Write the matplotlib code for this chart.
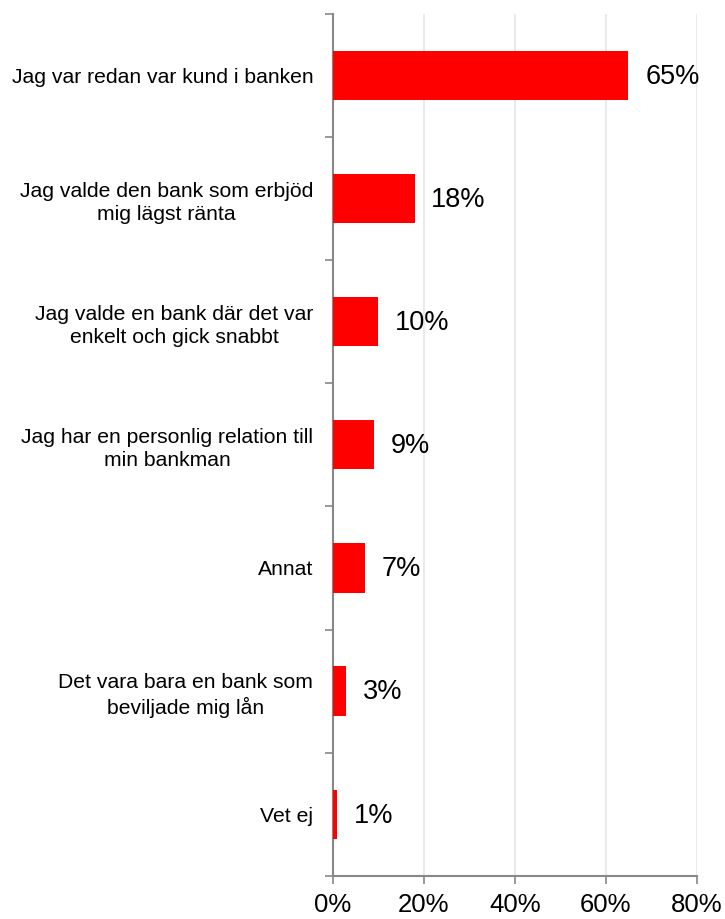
import matplotlib
matplotlib.use("Agg")
import matplotlib.pyplot as plt
from matplotlib.ticker import FixedLocator, FuncFormatter
import numpy as np

plt.rcParams['font.family'] = ['Liberation Sans', 'DejaVu Sans']

categories = [
    "Jag var redan var kund i banken",
    "Jag valde den bank som erbjöd\nmig lägst ränta",
    "Jag valde en bank där det var\nenkelt och gick snabbt",
    "Jag har en personlig relation till\nmin bankman",
    "Annat",
    "Det vara bara en bank som\nbeviljade mig lån",
    "Vet ej",
]
values = [65, 18, 10, 9, 7, 3, 1]
xticks = [0, 20, 40, 60, 80]

fig = plt.figure(figsize=(7.25, 9.19), dpi=100)
ax = fig.add_axes([0.459, 0.047, 0.502, 0.938])

y = np.arange(len(categories))
ax.barh(y, values, height=0.4, color="#ff0000", zorder=3)
ax.set_ylim(len(categories) - 0.5, -0.5)
ax.set_xlim(0, 80)

for yi, v in zip(y, values):
    ax.annotate(f"{v}%", (v, yi), xytext=(12, -1), textcoords="offset points",
                va="center", ha="left", fontsize=19.5, color="black")

# category labels at bar centres, tick marks at band boundaries
ax.set_yticks(y)
ax.set_yticklabels(categories, fontsize=15.2, multialignment="center", linespacing=1.3)
ax.tick_params(axis="y", which="major", length=0, pad=14)
ax.yaxis.set_minor_locator(FixedLocator(np.arange(-0.5, len(categories), 1.0)))
ax.tick_params(axis="y", which="minor", length=6, width=1.2, color="#888888")

ax.set_xticks(xticks)
ax.xaxis.set_major_formatter(FuncFormatter(lambda v, p: f"{v:.0f}%"))
ax.tick_params(axis="x", length=6, width=1.2, color="#888888", labelsize=18.5, pad=6.5)

ax.grid(axis="x", color="#e6e6e6", linewidth=1.2, zorder=0)
for s in ("top", "right"):
    ax.spines[s].set_visible(False)
for s in ("left", "bottom"):
    ax.spines[s].set_color("#888888")
    ax.spines[s].set_linewidth(1.5)
ax.spines["bottom"].set_zorder(4)

fig.savefig("out.png", dpi=100, facecolor="white")
